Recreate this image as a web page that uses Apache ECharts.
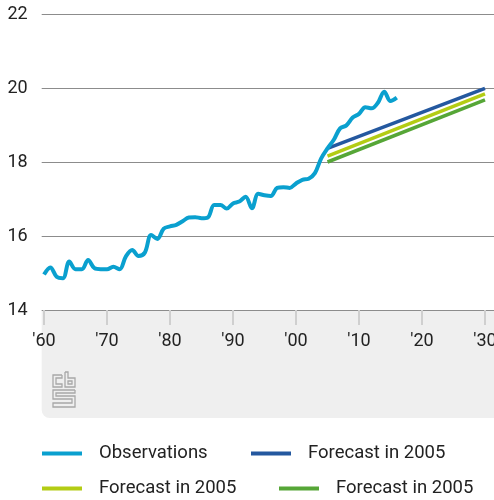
<!DOCTYPE html>
<html>
<head>
<meta charset="utf-8">
<script src="https://cdn.jsdelivr.net/npm/echarts@6/dist/echarts.min.js"></script>
<style>
  html, body { margin: 0; padding: 0; background: #fff; }
  #main { width: 494px; height: 500px; }
</style>
</head>
<body>
<div id="main"></div>
<script>
// data
var obsYears = [1960,1961,1962,1963,1964,1965,1966,1967,1968,1969,
                1970,1971,1972,1973,1974,1975,1976,1977,1978,1979,
                1980,1981,1982,1983,1984,1985,1986,1987,1988,1989,
                1990,1991,1992,1993,1994,1995,1996,1997,1998,1999,
                2000,2001,2002,2003,2004,2005,2006,2007,2008,2009,
                2010,2011,2012,2013,2014,2015,2016];
var obsValues = [14.96,15.15,14.9,14.86,15.31,15.1,15.1,15.35,15.13,15.1,
                 15.1,15.17,15.1,15.45,15.62,15.46,15.55,16.03,15.92,16.2,
                 16.26,16.3,16.4,16.5,16.51,16.48,16.5,16.84,16.84,16.74,
                 16.88,16.93,17.06,16.75,17.14,17.1,17.08,17.3,17.32,17.3,
                 17.42,17.52,17.55,17.7,18.1,18.37,18.6,18.91,18.99,19.2,
                 19.3,19.48,19.45,19.6,19.9,19.65,19.74];
var fcYears = [2005, 2030];
var fcBlue = [18.37, 19.99];
var fcLime = [18.16, 19.84];
var fcGreen = [18.0, 19.68];
var xTicks = [1960,1970,1980,1990,2000,2010,2020,2030];

function pairs(xs, ys) {
    var out = [];
    for (var i = 0; i < xs.length; i++) out.push([xs[i], ys[i]]);
    return out;
}

var chart = echarts.init(document.getElementById('main'));
var font = 'Roboto';

function legendAt(left, top, name, color) {
    return {
        left: left, top: top, padding: 0,
        icon: 'rect', itemWidth: 40, itemHeight: 4,
        selectedMode: false,
        textStyle: { fontFamily: font, fontSize: 18.5, color: '#222', padding: [0, 0, 0, 12] },
        data: [{ name: name, itemStyle: { color: color }, lineStyle: { color: color } }]
    };
}

var option = {
    animation: false,
    grid: { left: 41.7, right: 0, top: 14, bottom: 190, outerBoundsMode: 'none', containLabel: false },
    xAxis: {
        type: 'value', min: 1959.63, max: 2031.43,
        axisLine: { show: false },
        splitLine: { show: false },
        axisTick: { show: true, customValues: xTicks, length: 15, lineStyle: { color: '#cfcfcf', width: 2 } },
        axisLabel: {
            customValues: xTicks, margin: 22, fontFamily: font, fontSize: 18, color: '#222',
            formatter: function (v) { return "'" + String(v).slice(2); }
        }
    },
    yAxis: {
        type: 'value', min: 14, max: 22, interval: 2,
        axisLine: { show: false }, axisTick: { show: false },
        splitLine: { lineStyle: { color: '#8c8c8c', width: 1 } },
        axisLabel: { margin: 14, fontFamily: font, fontSize: 18, color: '#222' }
    },
    graphic: [
        { type: 'rect', z: -5, shape: { x: 41.7, y: 310, width: 460, height: 108, r: [0, 0, 0, 8] }, style: { fill: '#efefef' } },
        { type: 'polyline', z: -4, shape: { points: [[62,375],[53,375],[53,387],[62,387],[62,384],[56,384],[56,378],[62,378],[62,375]] }, style: { stroke: '#a8a8a8', lineWidth: 1.3, fill: null } },
        { type: 'polyline', z: -4, shape: { points: [[65,372],[68,372],[68,378],[75,378],[75,387],[65,387],[65,372]] }, style: { stroke: '#a8a8a8', lineWidth: 1.3, fill: null } },
        { type: 'rect', z: -4, shape: { x: 68, y: 381, width: 4, height: 3 }, style: { stroke: '#a8a8a8', lineWidth: 1.3, fill: null } },
        { type: 'polyline', z: -4, shape: { points: [[75,390],[53,390],[53,399],[72,399],[72,403],[53,403],[53,407],[75,407],[75,396],[56,396],[56,393],[75,393],[75,390]] }, style: { stroke: '#a8a8a8', lineWidth: 1.3, fill: null } }
    ],
    legend: [
        legendAt(42, 444, 'Observations', '#0aa0cf'),
        legendAt(251, 444, 'Forecast in 2005', '#24589f'),
        legendAt(42, 479, 'Forecast in 2005', '#b3cc14'),
        legendAt(279, 479, 'Forecast in 2005', '#56a637')
    ],
    series: [
        { name: 'Forecast in 2005', type: 'line', data: pairs(fcYears, fcBlue), showSymbol: false, lineStyle: { color: '#24589f', width: 3.5 }, itemStyle: { color: '#24589f' } },
        { name: 'Forecast in 2005', type: 'line', data: pairs(fcYears, fcLime), showSymbol: false, lineStyle: { color: '#b3cc14', width: 3.5 }, itemStyle: { color: '#b3cc14' } },
        { name: 'Forecast in 2005', type: 'line', data: pairs(fcYears, fcGreen), showSymbol: false, lineStyle: { color: '#56a637', width: 3.5 }, itemStyle: { color: '#56a637' } },
        { name: 'Observations', type: 'line', data: pairs(obsYears, obsValues), smooth: 0.35, showSymbol: false, lineStyle: { color: '#0aa0cf', width: 4 }, itemStyle: { color: '#0aa0cf' } }
    ]
};

chart.setOption(option);
</script>
</body>
</html>
